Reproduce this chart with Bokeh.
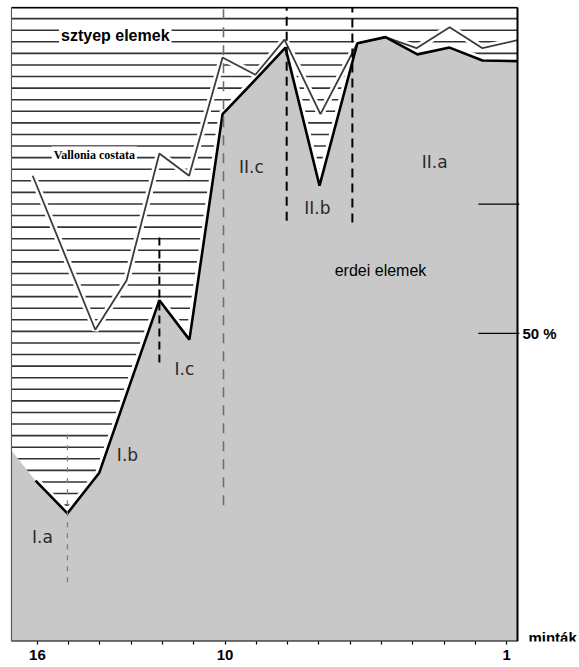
import numpy as np
from bokeh.plotting import figure
from bokeh.models import Range1d, LinearAxis, FixedTicker
from bokeh.embed import file_html
from bokeh.resources import INLINE
from bokeh.core.properties import value

# ---- data (sample number on x: 16 at left ... 1 at right; percent on y) ----
# erdei elemek (forest elements) - upper boundary of the grey area
erdei_x = [16.83, 16.06, 15.04, 14.02, 13.03, 12.1, 11.14, 10.08, 9.03, 8.07,
           6.98, 5.77, 4.87, 3.85, 2.82, 1.77, 0.65]
erdei_y = [31.0, 26.1, 20.8, 27.4, 41.9, 55.4, 49.0, 85.6, 91.2, 96.4,
           74.0, 97.1, 98.1, 95.3, 96.4, 94.3, 94.2]

# Vallonia costata curve
vallonia_x = [16.15, 14.15, 13.15, 12.1, 11.15, 10.08, 9.03, 8.1, 6.95, 5.77,
              4.87, 3.88, 2.82, 1.77, 0.65]
vallonia_y = [75.6, 50.6, 58.6, 79.2, 75.6, 94.8, 92.0, 97.7, 85.6, 97.1,
              98.1, 96.3, 99.7, 96.3, 97.6]

# zone dividers (dashed verticals)
divider_x = [15.04, 12.1, 10.05, 8.03, 5.93]
divider_top = [33.9, 65.9, 102.9, 102.9, 102.9]
divider_bottom = [9.6, 45.3, 22.1, 68.3, 68.0]

# zone labels
zone_names = ["I.a", "I.b", "I.c", "II.c", "II.b", "II.a"]
zone_x = [15.84, 13.12, 11.3, 9.16, 7.05, 3.3]
zone_y = [17.0, 30.2, 44.2, 77.0, 70.3, 77.9]

sample_ticks = list(range(1, 17))
sample_labels = {16: "16", 10: "10", 1: "1"}
pct_ticks = [50, 71]
pct_labels = ["50 %", ""]

# chart box (in data units) and view range
XL, XR = 16.83, 0.65       # left / right edge of the diagram box
YT = 102.9                 # top edge of the diagram box
X0, X1 = 16.86, -1.30
Y0, Y1 = 0, 103.07
TICK_IN = 1.25             # length of the right-hand ticks (sample units)

p = figure(width=578, height=666, x_range=Range1d(X0, X1), y_range=Range1d(Y0, Y1),
           output_backend="svg", toolbar_location=None,
           x_axis_location=None, y_axis_location=None,
           min_border_left=10, min_border_right=0, min_border_top=6, min_border_bottom=25)
p.grid.visible = False
p.outline_line_color = None
p.background_fill_color = "white"
p.border_fill_color = "white"

# horizontal hatch lines (steppe elements region)
hatch_y = np.arange(101.1, 19.0, -1.88)
p.segment(x0=XL, x1=XR, y0=hatch_y, y1=hatch_y, line_color="#333333", line_width=1.6)

# white halos
p.line(vallonia_x, vallonia_y, line_color="white", line_width=7)
p.line(erdei_x[1:], erdei_y[1:], line_color="white", line_width=8)

# grey area
p.varea(x=erdei_x, y1=0, y2=erdei_y, fill_color="#c8c8c8")

# curves
p.line(vallonia_x, vallonia_y, line_color="#3c3c3c", line_width=1.8)
p.line(erdei_x[1:], erdei_y[1:], line_color="black", line_width=2.6)

# dashed zone dividers
styles = [("#808080", 1.3, "5 6"), ("black", 2.0, "8 5"), ("#6e6e6e", 1.6, "10 8"),
          ("black", 2.0, "9 6"), ("black", 2.0, "9 6")]
for xx, yt, yb, (c, w, d) in zip(divider_x, divider_top, divider_bottom, styles):
    p.segment(x0=[xx], x1=[xx], y0=[yb], y1=[yt], line_color=c, line_width=w, line_dash=d)

# box edges
p.segment(x0=[XL, XL], x1=[XR, XR], y0=[YT, 0], y1=[YT, 0], line_color="black", line_width=1.8)
p.segment(x0=[XL], x1=[XL], y0=[0], y1=[YT], line_color="#555555", line_width=1.2)
p.segment(x0=[XR], x1=[XR], y0=[0], y1=[YT], line_color="black", line_width=2.0)

# right-hand percent ticks and label
p.segment(x0=XR + TICK_IN, x1=XR - 0.06, y0=pct_ticks, y1=pct_ticks,
          line_color="black", line_width=1.3)
p.text(x=XR - 0.16, y=pct_ticks, text=pct_labels, text_font=value("Liberation Sans"),
       text_font_style="bold", text_font_size="15px", text_color="black",
       text_align="left", text_baseline="middle")
p.text(x=[XR - 0.35], y=[0.65], text=["minták"], text_font=value("Liberation Sans"),
       text_font_style="bold", text_font_size="15px", text_color="black",
       text_align="left", text_baseline="middle")

# zone labels
p.text(x=zone_x, y=zone_y, text=zone_names, text_font=value("DejaVu Sans"),
       text_font_size="17px", text_color="#2a2a2a", text_align="center", text_baseline="middle")

# region titles (with white background)
p.text(x=[13.51], y=[98.4], text=["sztyep elemek"], text_font=value("Liberation Sans"),
       text_font_style="bold", text_font_size="16px", text_color="black",
       text_align="center", text_baseline="middle",
       background_fill_color="white", padding=2)
p.text(x=[14.18], y=[78.9], text=["Vallonia costata"], text_font=value("Liberation Serif"),
       text_font_style="bold", text_font_size="12px", text_color="black",
       text_align="center", text_baseline="middle",
       background_fill_color="white", padding=2)
p.text(x=[5.03], y=[60.2], text=["erdei elemek"], text_font=value("Liberation Sans"),
       text_font_size="16px", text_color="black", text_align="center", text_baseline="middle")

# sample axis
xaxis = LinearAxis(ticker=FixedTicker(ticks=sample_ticks),
                   major_label_overrides={t: sample_labels.get(t, "") for t in sample_ticks},
                   major_tick_out=3, major_tick_in=0, minor_tick_out=0, minor_tick_in=0,
                   axis_line_color=None, major_tick_line_width=1.2,
                   major_label_standoff=5,
                   major_label_text_font="Liberation Sans", major_label_text_font_style="bold",
                   major_label_text_font_size="15px", major_label_text_color="black")
p.add_layout(xaxis, "below")

open("out.html", "w").write(file_html(p, INLINE))
